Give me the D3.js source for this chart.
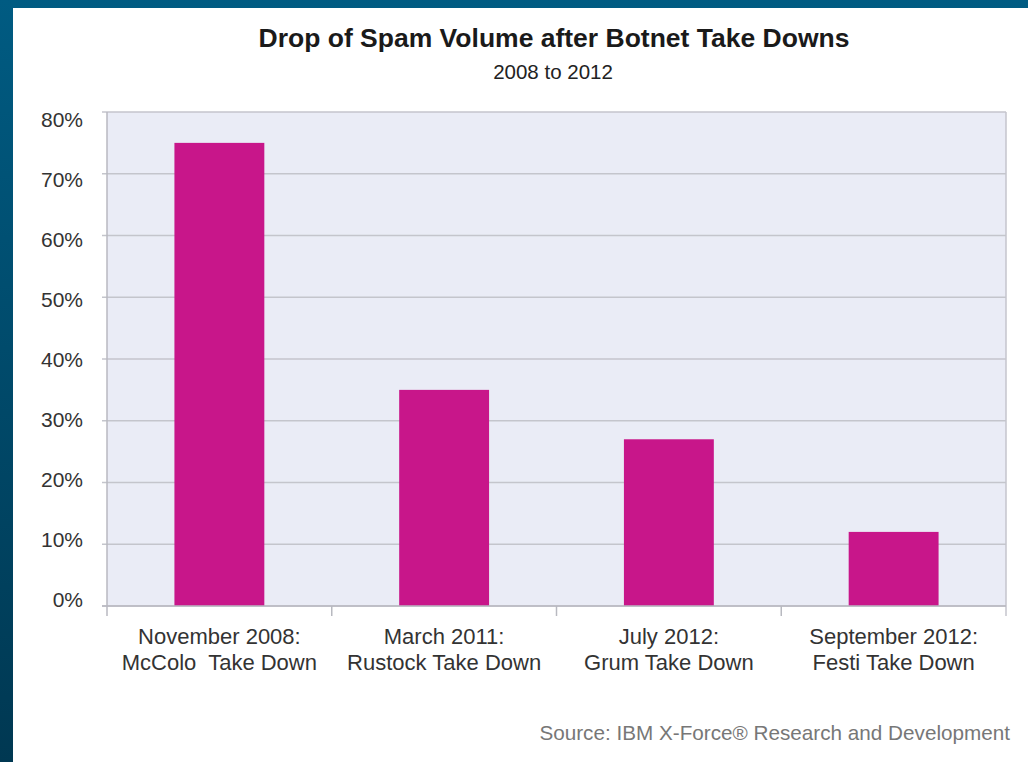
<!DOCTYPE html>
<html><head><meta charset="utf-8">
<script src="https://cdn.jsdelivr.net/npm/d3@7"></script>
<style>html,body{margin:0;padding:0;overflow:hidden;background:#fff}</style>
</head><body>
<svg id="c" width="1028" height="762"></svg>
<script>
const categories = [["November 2008:", "McColo  Take Down"], ["March 2011:", "Rustock Take Down"], ["July 2012:", "Grum Take Down"], ["September 2012:", "Festi Take Down"]];
const values = [75, 35, 27, 12];
const yTicks = [0, 10, 20, 30, 40, 50, 60, 70, 80];
const title = "Drop of Spam Volume after Botnet Take Downs";
const subtitle = "2008 to 2012";
const source = "Source: IBM X-Force\u00AE Research and Development";

const svg = d3.select("#c");
const W = 1028, H = 762;
const font = "'Liberation Sans', Arial, Helvetica, sans-serif";

// background frame
const defs = svg.append("defs");
const g1 = defs.append("linearGradient").attr("id","bg").attr("x1",0).attr("y1",0).attr("x2",0).attr("y2",1);
g1.append("stop").attr("offset","0%").attr("stop-color","#005b82");
g1.append("stop").attr("offset","100%").attr("stop-color","#003852");
svg.append("rect").attr("width",W).attr("height",H).attr("fill","url(#bg)");
svg.append("rect").attr("x",13).attr("y",8).attr("width",W-13).attr("height",H-8).attr("fill","#fff");

const m = {left:107, right:1006, top:112, bottom:606};
const x = d3.scaleBand().domain(d3.range(categories.length)).range([m.left, m.right]).paddingInner(0.6).paddingOuter(0.3);
const xb = d3.scaleBand().domain(d3.range(categories.length)).range([m.left, m.right]).padding(0);
const y = d3.scaleLinear().domain([0, 80]).range([m.bottom, m.top]);
// tick labels sit on a slightly tighter spacing than the gridlines in the original
const yLab = d3.scaleLinear().domain([0, 80]).range([599, 119]);

// plot background
svg.append("rect").attr("x",m.left).attr("y",m.top).attr("width",m.right-m.left).attr("height",m.bottom-m.top).attr("fill","#eaecf6");

// gridlines
svg.append("g").selectAll("line").data(yTicks).join("line")
  .attr("x1", m.left-5).attr("x2", m.right)
  .attr("y1", d=>y(d)).attr("y2", d=>y(d))
  .attr("stroke", "#c4c5cc").attr("stroke-width", 1.5);

// right border
svg.append("line").attr("x1",m.right).attr("x2",m.right).attr("y1",m.top).attr("y2",m.bottom+10)
  .attr("stroke","#c4c5cc").attr("stroke-width",1.5);

// bars
svg.append("g").selectAll("rect").data(values).join("rect")
  .attr("x",(d,i)=>x(i)).attr("width",x.bandwidth())
  .attr("y",d=>y(d)).attr("height",d=>y(0)-y(d))
  .attr("fill","#c8168a");

// axes lines
svg.append("line").attr("x1",m.left).attr("x2",m.left).attr("y1",m.top).attr("y2",m.bottom+10)
  .attr("stroke","#b8b9c0").attr("stroke-width",1.5);
svg.append("line").attr("x1",m.left-5).attr("x2",m.right).attr("y1",m.bottom).attr("y2",m.bottom)
  .attr("stroke","#b8b9c0").attr("stroke-width",1.5);
// category boundary ticks
svg.append("g").selectAll("line").data(d3.range(1, categories.length)).join("line")
  .attr("x1",i=>xb(i)).attr("x2",i=>xb(i)).attr("y1",m.bottom).attr("y2",m.bottom+10)
  .attr("stroke","#b8b9c0").attr("stroke-width",1.5);

// y labels
svg.append("g").selectAll("text").data(yTicks).join("text")
  .attr("x", 83).attr("y", d=>yLab(d)+7.5)
  .attr("text-anchor","end").attr("font-family",font).attr("font-size",21).attr("fill","#333")
  .text(d=>d+"%");

// x labels
const xl = svg.append("g").selectAll("text").data(categories).join("text")
  .attr("text-anchor","middle").attr("font-family",font).attr("font-size",22).attr("fill","#333");
xl.each(function(d,i){
  const t = d3.select(this);
  d.forEach((line,k)=>{
    t.append("tspan").attr("x", xb(i)+xb.bandwidth()/2).attr("y", 644+k*26).attr("xml:space","preserve").text(line);
  });
});

// titles
svg.append("text").attr("x",554).attr("y",47).attr("text-anchor","middle")
  .attr("font-family",font).attr("font-weight","bold").attr("font-size",26.5).attr("fill","#1a1a1a").text(title);
svg.append("text").attr("x",553).attr("y",79).attr("text-anchor","middle")
  .attr("font-family",font).attr("font-size",20.5).attr("fill","#222").text(subtitle);
svg.append("text").attr("x",1010).attr("y",740).attr("text-anchor","end")
  .attr("font-family",font).attr("font-size",20.7).attr("fill","#777").text(source);
</script>
</body></html>
